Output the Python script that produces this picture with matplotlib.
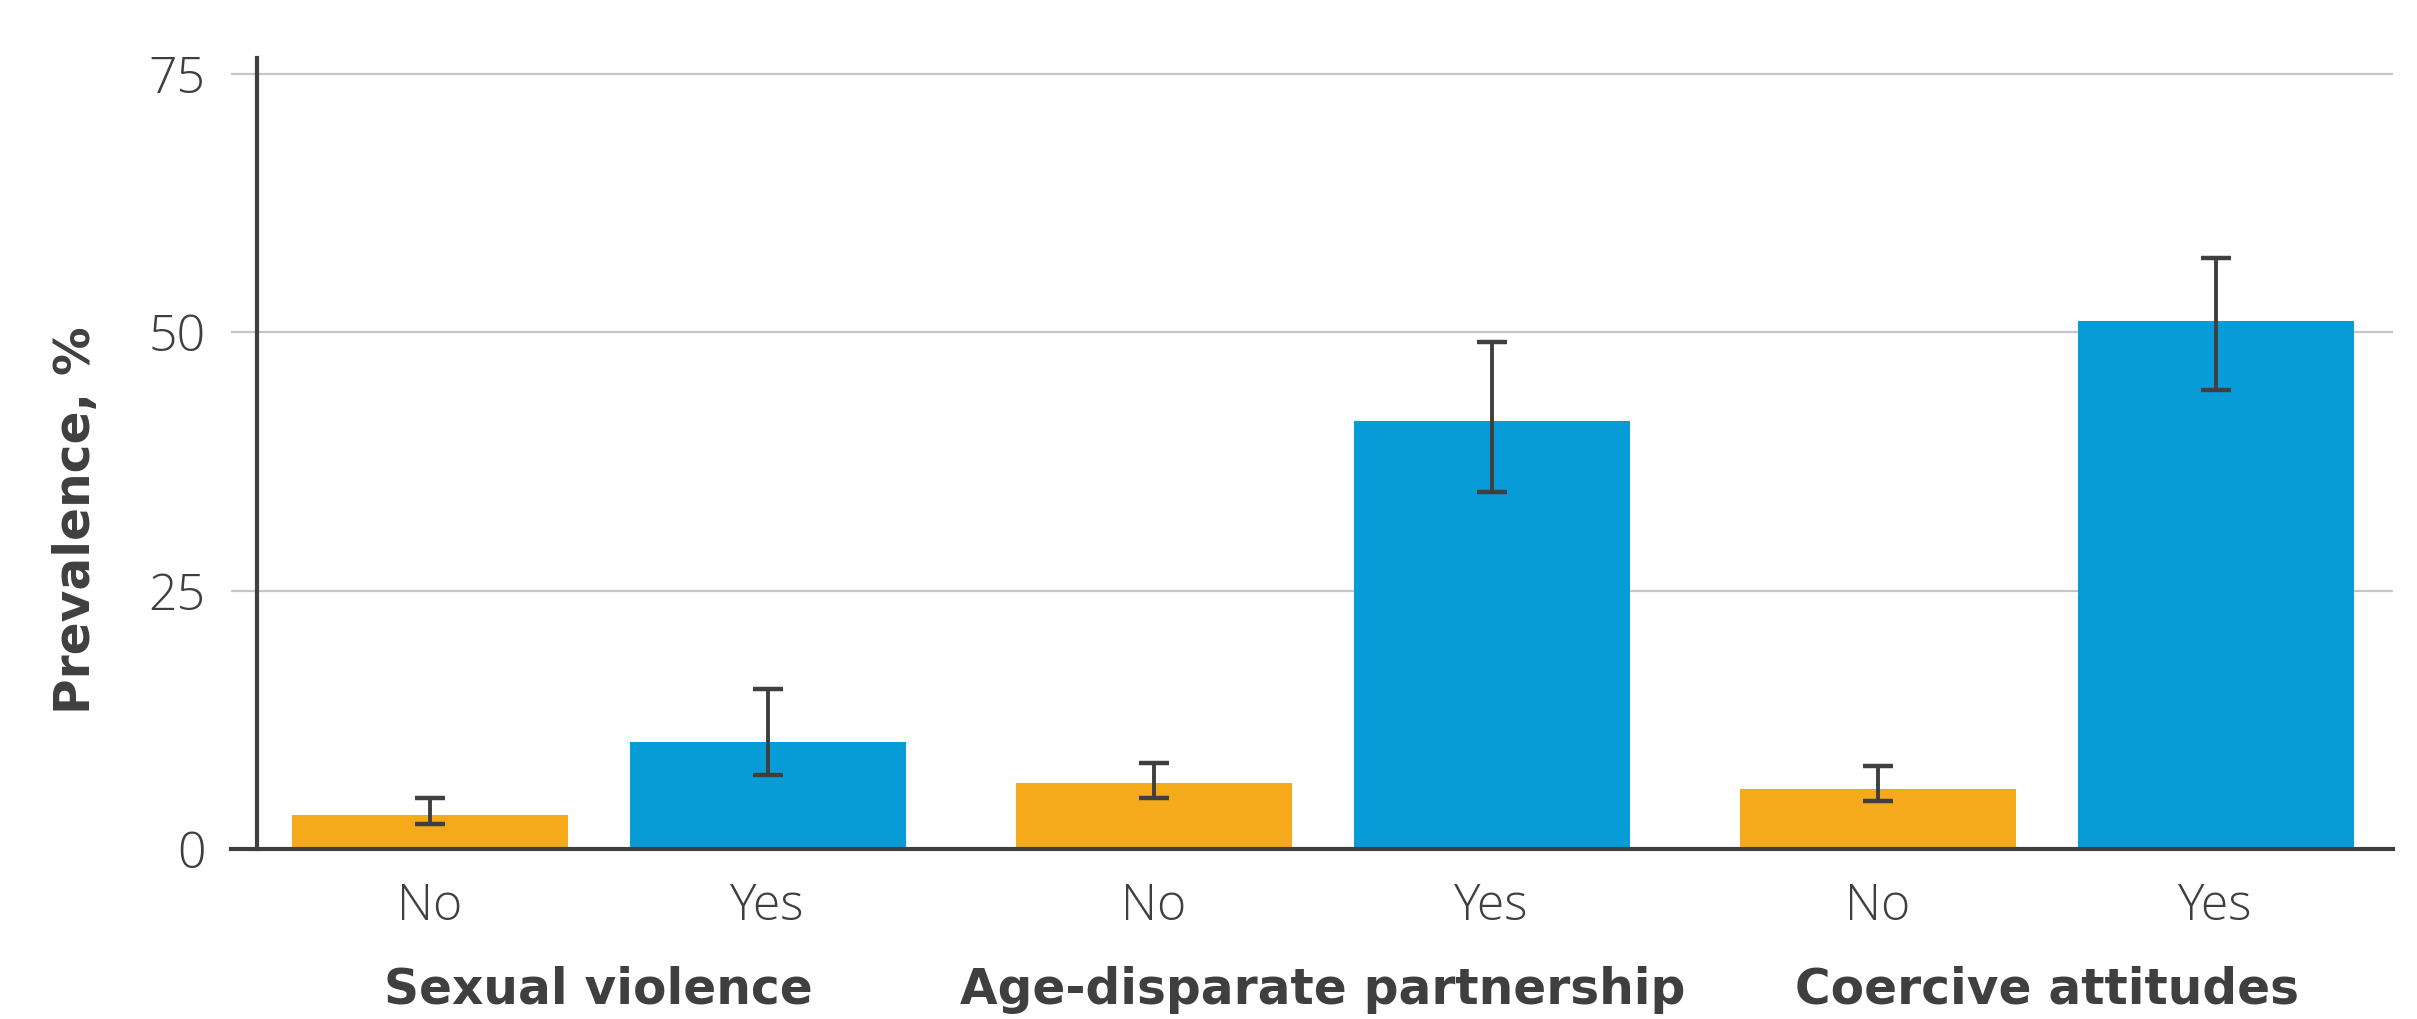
import matplotlib
matplotlib.use("Agg")
import matplotlib.pyplot as plt
import matplotlib.transforms as mtransforms
import numpy as np

# Prevalence by exposure (%), with 95% confidence bounds
groups = ["Sexual violence", "Age-disparate partnership", "Coercive attitudes"]
levels = ["No", "Yes"]

no_values = [3.3, 6.4, 5.8]
no_lower = [2.4, 4.9, 4.6]
no_upper = [4.9, 8.3, 8.0]

yes_values = [10.4, 41.4, 51.1]
yes_lower = [7.2, 34.5, 44.4]
yes_upper = [15.5, 49.0, 57.2]

y_ticks = [0, 25, 50, 75]

ORANGE = "#F5AA1C"
BLUE = "#079CD8"
DARK = "#3F3F3F"
GRID = "#C6C6C6"
TICK_FONT = dict(family="Open Sans", weight=300, size=36)
LABEL_FONT = dict(family="DejaVu Sans", weight="bold", size=35)

fig = plt.figure(figsize=(24.17, 10.19), dpi=100)
ax = fig.add_axes([0.0956, 0.1668, 0.8944, 0.7762])

x = np.arange(len(groups))
offset = 0.2332
width = 0.381

def draw_series(xpos, vals, lo, hi, color):
    vals = np.asarray(vals)
    yerr = np.vstack([vals - np.asarray(lo), np.asarray(hi) - vals])
    ax.bar(xpos, vals, width=width, color=color, zorder=2)
    ax.errorbar(xpos, vals, yerr=yerr, fmt="none", ecolor=DARK,
                elinewidth=2.8, capsize=11, capthick=3.2, zorder=3)

draw_series(x - offset, no_values, no_lower, no_upper, ORANGE)
draw_series(x + offset, yes_values, yes_lower, yes_upper, BLUE)

ax.set_xlim(-0.508, 2.478)
ax.set_ylim(0, 76.5)

for s in ["top", "right"]:
    ax.spines[s].set_visible(False)
ax.spines["left"].set_position(("data", -0.4718))
ax.spines["left"].set_linewidth(3)
ax.spines["left"].set_color(DARK)
ax.spines["bottom"].set_linewidth(3)
ax.spines["bottom"].set_color(DARK)
ax.spines["bottom"].set_zorder(4)

# Horizontal guides at the labelled values
for t in y_ticks[1:]:
    ax.axhline(t, color=GRID, linewidth=1.6, zorder=1)

ax.set_yticks(y_ticks)
ax.set_yticklabels([str(t) for t in y_ticks], fontdict=TICK_FONT, color=DARK)
ax.tick_params(axis="y", length=0, pad=37)

xt = np.concatenate([x - offset, x + offset])
xl = ["No"] * len(groups) + ["Yes"] * len(groups)
ax.set_xticks(xt)
ax.set_xticklabels(xl, fontdict=TICK_FONT, color=DARK)
ax.tick_params(axis="x", length=0, pad=24)

trans = mtransforms.blended_transform_factory(ax.transData, ax.transAxes)
for gx, name in zip(x, groups):
    ax.text(gx, -0.178, name, transform=trans, ha="center", va="center",
            color=DARK, fontdict=LABEL_FONT)

fig.text(0.0315, 0.490, "Prevalence, %", rotation=90, ha="center", va="center",
         color=DARK, fontdict=LABEL_FONT)

fig.savefig("out.png", dpi=100, facecolor="white")
